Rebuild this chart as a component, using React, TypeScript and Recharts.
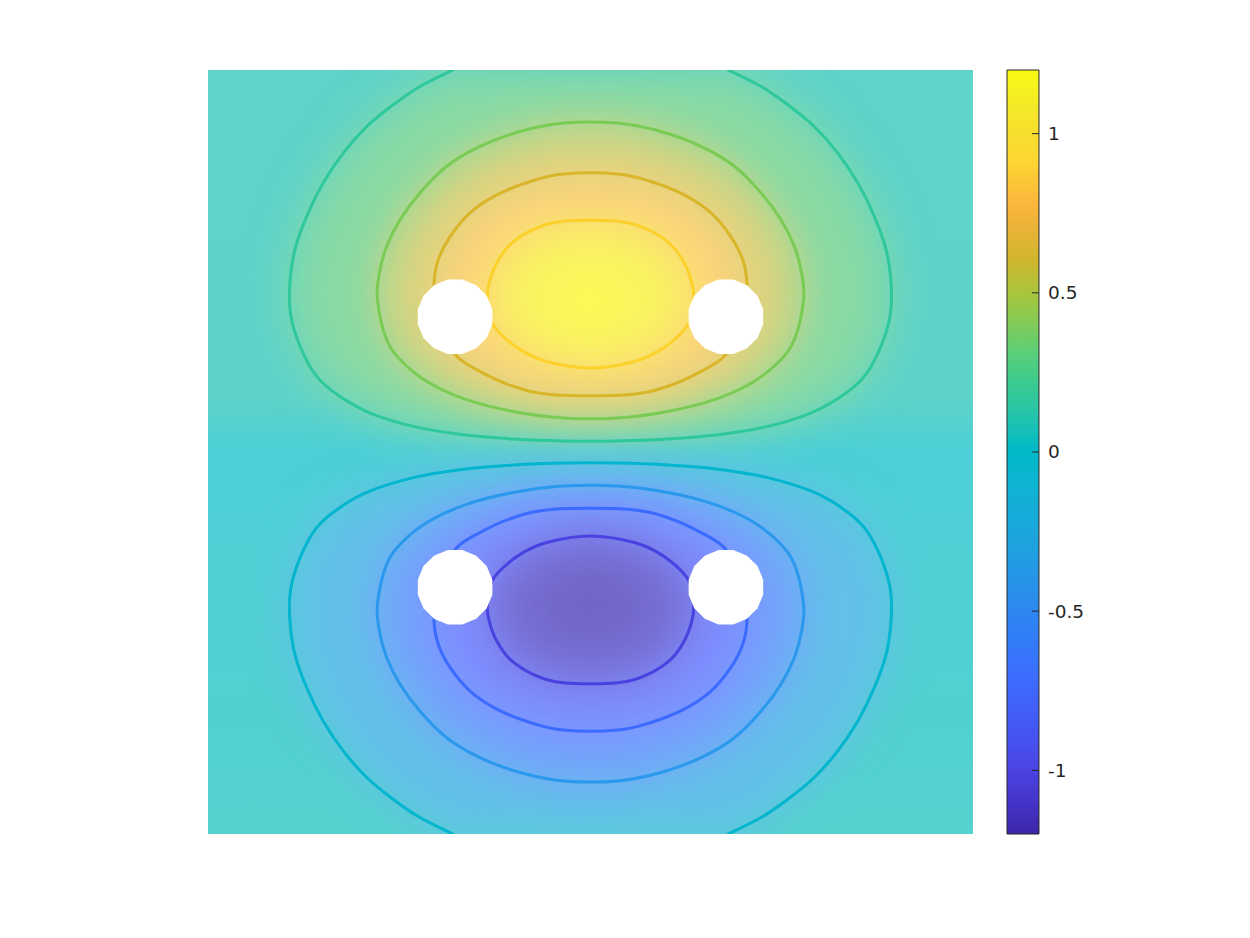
import React from 'react';
import { ScatterChart, Scatter, XAxis, YAxis, ReferenceArea, ReferenceLine } from 'recharts';

type P = [number, number];

// ---- contour lines (x, y in plot units, square [-1,1]) ----
const upperOuter: P[] = [
  [-0.36, 1.0], [-0.446, 0.957], [-0.516, 0.909], [-0.585, 0.852], [-0.646, 0.783], [-0.699, 0.704],
  [-0.742, 0.617], [-0.773, 0.529], [-0.786, 0.44], [-0.784, 0.36], [-0.759, 0.276], [-0.716, 0.198],
  [-0.655, 0.145], [-0.576, 0.102], [-0.463, 0.067], [-0.333, 0.045], [-0.202, 0.034], [-0.071, 0.029],
  [0.071, 0.029], [0.202, 0.034], [0.333, 0.045], [0.463, 0.067], [0.576, 0.102], [0.655, 0.145],
  [0.716, 0.198], [0.759, 0.276], [0.784, 0.36], [0.786, 0.44], [0.773, 0.529], [0.742, 0.617],
  [0.699, 0.704], [0.646, 0.783], [0.585, 0.852], [0.516, 0.909], [0.446, 0.957], [0.36, 1.0],
];
const upperMid: P[] = [
  [-0.071, 0.861], [-0.184, 0.839], [-0.289, 0.8], [-0.376, 0.748], [-0.446, 0.678], [-0.498, 0.608],
  [-0.533, 0.538], [-0.552, 0.468], [-0.557, 0.399], [-0.533, 0.294], [-0.489, 0.233], [-0.42, 0.18],
  [-0.324, 0.137], [-0.202, 0.106], [-0.071, 0.089], [0.071, 0.089], [0.202, 0.106], [0.324, 0.137],
  [0.42, 0.18], [0.489, 0.233], [0.533, 0.294], [0.557, 0.399], [0.552, 0.468], [0.533, 0.538],
  [0.498, 0.608], [0.446, 0.678], [0.376, 0.748], [0.289, 0.8], [0.184, 0.839], [0.071, 0.861],
];
const upperNear: P[] = [
  [-0.071, 0.728], [-0.158, 0.708], [-0.245, 0.673], [-0.315, 0.626], [-0.367, 0.564], [-0.398, 0.503],
  [-0.409, 0.442], [-0.404, 0.346], [-0.354, 0.255], [-0.289, 0.211], [-0.202, 0.172], [-0.097, 0.15],
  [0.097, 0.15], [0.202, 0.172], [0.289, 0.211], [0.354, 0.255], [0.404, 0.346], [0.409, 0.442],
  [0.398, 0.503], [0.367, 0.564], [0.315, 0.626], [0.245, 0.673], [0.158, 0.708], [0.071, 0.728],
];
const upperCore: P[] = [
  [-0.071, 0.604], [-0.15, 0.582], [-0.21, 0.543], [-0.245, 0.495], [-0.265, 0.442], [-0.27, 0.399],
  [-0.261, 0.346], [-0.237, 0.311], [-0.184, 0.268], [-0.115, 0.237], [0, 0.22], [0.115, 0.237],
  [0.184, 0.268], [0.237, 0.311], [0.261, 0.346], [0.27, 0.399], [0.265, 0.442], [0.245, 0.495],
  [0.21, 0.543], [0.15, 0.582], [0.071, 0.604],
];
const lowerOuter: P[] = [
  [-0.36, -1.0], [-0.446, -0.957], [-0.516, -0.909], [-0.585, -0.852], [-0.646, -0.783], [-0.699, -0.704],
  [-0.742, -0.617], [-0.773, -0.529], [-0.786, -0.44], [-0.784, -0.36], [-0.759, -0.276], [-0.716, -0.198],
  [-0.655, -0.145], [-0.576, -0.102], [-0.463, -0.067], [-0.333, -0.045], [-0.202, -0.034], [-0.071, -0.029],
  [0.071, -0.029], [0.202, -0.034], [0.333, -0.045], [0.463, -0.067], [0.576, -0.102], [0.655, -0.145],
  [0.716, -0.198], [0.759, -0.276], [0.784, -0.36], [0.786, -0.44], [0.773, -0.529], [0.742, -0.617],
  [0.699, -0.704], [0.646, -0.783], [0.585, -0.852], [0.516, -0.909], [0.446, -0.957], [0.36, -1.0],
];
const lowerMid: P[] = [
  [-0.071, -0.861], [-0.184, -0.839], [-0.289, -0.8], [-0.376, -0.748], [-0.446, -0.678], [-0.498, -0.608],
  [-0.533, -0.538], [-0.552, -0.468], [-0.557, -0.399], [-0.533, -0.294], [-0.489, -0.233], [-0.42, -0.18],
  [-0.324, -0.137], [-0.202, -0.106], [-0.071, -0.089], [0.071, -0.089], [0.202, -0.106], [0.324, -0.137],
  [0.42, -0.18], [0.489, -0.233], [0.533, -0.294], [0.557, -0.399], [0.552, -0.468], [0.533, -0.538],
  [0.498, -0.608], [0.446, -0.678], [0.376, -0.748], [0.289, -0.8], [0.184, -0.839], [0.071, -0.861],
];
const lowerNear: P[] = [
  [-0.071, -0.728], [-0.158, -0.708], [-0.245, -0.673], [-0.315, -0.626], [-0.367, -0.564], [-0.398, -0.503],
  [-0.409, -0.442], [-0.404, -0.346], [-0.354, -0.255], [-0.289, -0.211], [-0.202, -0.172], [-0.097, -0.15],
  [0.097, -0.15], [0.202, -0.172], [0.289, -0.211], [0.354, -0.255], [0.404, -0.346], [0.409, -0.442],
  [0.398, -0.503], [0.367, -0.564], [0.315, -0.626], [0.245, -0.673], [0.158, -0.708], [0.071, -0.728],
];
const lowerCore: P[] = [
  [-0.071, -0.604], [-0.15, -0.582], [-0.21, -0.543], [-0.245, -0.495], [-0.265, -0.442], [-0.27, -0.399],
  [-0.261, -0.346], [-0.237, -0.311], [-0.184, -0.268], [-0.115, -0.237], [0, -0.22], [0.115, -0.237],
  [0.184, -0.268], [0.237, -0.311], [0.261, -0.346], [0.27, -0.399], [0.265, -0.442], [0.245, -0.495],
  [0.21, -0.543], [0.15, -0.582], [0.071, -0.604],
];

// holes (white discs) and plot frame
const holes: P[] = [[-0.354, 0.354], [0.354, 0.354], [-0.354, -0.354], [0.354, -0.354]];
const frame: P[] = [[-1, 1], [1, 1], [1, -1], [-1, -1]];

// colorbar
const colorbarDomain: [number, number] = [-1.2, 1.2];
const colorbarTicks = [-1, -0.5, 0, 0.5, 1];
const colorbarStops: [number, string][] = [
  [0, '#f8fa14'], [0.052, '#f4e82a'], [0.119, '#fdd532'], [0.171, '#fcb83c'], [0.204, '#ebb338'],
  [0.25, '#cfb62c'], [0.293, '#a8c53e'], [0.329, '#85cb55'], [0.369, '#5ccf78'], [0.408, '#3ccb8f'],
  [0.449, '#26c4a8'], [0.5, '#00bac8'], [0.547, '#0fb3d3'], [0.614, '#1da4de'], [0.68, '#2990ea'],
  [0.745, '#327cf8'], [0.798, '#3c6cff'], [0.857, '#4458f4'], [0.916, '#4a44e2'], [0.963, '#4332c6'],
  [1, '#3d26a9'],
];

// ---- styles ----
const CB_LEFT = 1.0889;
const CB_RIGHT = 1.1725;
const CB_TICK = 0.0183;
const TEXT = '#262626';

type Layer = { pts: P[]; closed: boolean; ink: string; paint: string };
const layers: Layer[] = [
  { pts: upperOuter, closed: false, ink: '#2fc89b', paint: '#88daa5' },
  { pts: upperMid, closed: true, ink: '#79cb53', paint: '#d4d480' },
  { pts: upperNear, closed: true, ink: '#d8b529', paint: '#fdd27b' },
  { pts: upperCore, closed: true, ink: '#fcd12c', paint: 'url(#upCore)' },
  { pts: lowerOuter, closed: false, ink: '#03b5ce', paint: '#63c0e9' },
  { pts: lowerMid, closed: true, ink: '#2a98ec', paint: '#74a2fd' },
  { pts: lowerNear, closed: true, ink: '#3b6bfe', paint: '#7f8cff' },
  { pts: lowerCore, closed: true, ink: '#4941e0', paint: 'url(#lowCore)' },
];

const toXY = (pts: P[]) => pts.map(([x, y]) => ({ x, y }));

function smoothPath(pts: { x: number; y: number }[], closed: boolean, straight: boolean): string {
  const n = pts.length;
  if (straight) return pts.map((p, i) => `${i ? 'L' : 'M'}${p.x},${p.y}`).join('') + 'Z';
  const at = (i: number) => (closed ? pts[((i % n) + n) % n] : pts[Math.max(0, Math.min(n - 1, i))]);
  let d = `M${pts[0].x},${pts[0].y}`;
  const segs = closed ? n : n - 1;
  for (let i = 0; i < segs; i++) {
    const p0 = at(i - 1), p1 = at(i), p2 = at(i + 1), p3 = at(i + 2);
    d += `C${p1.x + (p2.x - p0.x) / 6},${p1.y + (p2.y - p0.y) / 6} ${p2.x - (p3.x - p1.x) / 6},${p2.y - (p3.y - p1.y) / 6} ${p2.x},${p2.y}`;
  }
  if (closed) d += 'Z';
  return d;
}

function SmoothPath(props: any) {
  const { points, closed, straight, paint, ink, weight, soft } = props;
  if (!points || points.length < 2) return null;
  const el = (
    <path
      d={smoothPath(points, !!closed, !!straight)}
      fill={paint ?? 'none'}
      stroke={ink ?? 'none'}
      strokeWidth={weight ?? 0}
      strokeLinejoin="round"
      strokeLinecap="round"
    />
  );
  return soft ? <g filter="url(#soft)">{el}</g> : el;
}

const Blank = () => <g />;

const Hole = (props: any) => {
  const { cx, cy } = props;
  const n = 16;
  const r = 38;
  const pts = Array.from({ length: n }, (_, i) => {
    const a = ((i + 0.5) / n) * 2 * Math.PI;
    return `${cx + r * Math.cos(a)},${cy + r * Math.sin(a)}`;
  }).join(' ');
  return <polygon points={pts} fill="#ffffff" />;
};

const CbTick = (props: any) => {
  const { x, y, payload } = props;
  return (
    <text x={x + 67} y={y} dy="0.35em" textAnchor="start" fontFamily="DejaVu Sans" fontSize={18.5} fill={TEXT}>
      {String(payload.value)}
    </text>
  );
};

export default function App() {
  return (
    <div style={{ position: 'absolute', left: 0, top: 0, width: 1250, height: 938, background: '#ffffff' }}>
      <ScatterChart width={1250} height={938} margin={{ top: 70, right: 217, bottom: 104, left: 208 }}>
        <defs>
          <filter id="soft" x="-50%" y="-50%" width="200%" height="200%">
            <feGaussianBlur stdDeviation="20" />
          </filter>
          <linearGradient id="bgGrad" x1="0" y1="0" x2="0" y2="1">
            <stop offset="0" stopColor="#5fd3c8" />
            <stop offset="0.43" stopColor="#5dd3c9" />
            <stop offset="0.5" stopColor="#4ccfd6" />
            <stop offset="0.57" stopColor="#4fcfd6" />
            <stop offset="1" stopColor="#55d1cf" />
          </linearGradient>
          <radialGradient id="upCore" cx="0.5" cy="0.54" r="0.6">
            <stop offset="0" stopColor="#fcfc54" />
            <stop offset="0.55" stopColor="#f9f361" />
            <stop offset="1" stopColor="#f7e96a" />
          </radialGradient>
          <radialGradient id="lowCore" cx="0.5" cy="0.46" r="0.6">
            <stop offset="0" stopColor="#7062c0" />
            <stop offset="0.55" stopColor="#756cd0" />
            <stop offset="1" stopColor="#7a78e0" />
          </radialGradient>
          <linearGradient id="cbGrad" x1="0" y1="0" x2="0" y2="1">
            {colorbarStops.map(([o, c]) => (
              <stop key={o} offset={o} stopColor={c} />
            ))}
          </linearGradient>
        </defs>

        <XAxis xAxisId="x" type="number" dataKey="x" domain={[-1, 1]} allowDataOverflow hide />
        <YAxis yAxisId="main" type="number" dataKey="y" domain={[-1, 1]} allowDataOverflow hide />
        <YAxis
          yAxisId="cb"
          orientation="right"
          type="number"
          domain={colorbarDomain}
          allowDataOverflow
          ticks={colorbarTicks}
          interval={0}
          axisLine={false}
          tickLine={false}
          width={60}
          tick={<CbTick />}
        />

        <Scatter
          data={toXY(frame)}
          xAxisId="x"
          yAxisId="main"
          shape={Blank}
          line={<SmoothPath straight paint="url(#bgGrad)" />}
          lineType="joint"
          isAnimationActive={false}
        />
        {layers.map((l, i) => (
          <Scatter
            key={`fill${i}`}
            data={toXY(l.pts)}
            xAxisId="x"
            yAxisId="main"
            shape={Blank}
            line={<SmoothPath closed={l.closed} paint={l.paint} soft />}
            lineType="joint"
            isAnimationActive={false}
          />
        ))}
        {layers.map((l, i) => (
          <Scatter
            key={`ink${i}`}
            data={toXY(l.pts)}
            xAxisId="x"
            yAxisId="main"
            shape={Blank}
            line={<SmoothPath closed={l.closed} ink={l.ink} weight={3} />}
            lineType="joint"
            isAnimationActive={false}
          />
        ))}
        <Scatter data={toXY(holes)} xAxisId="x" yAxisId="main" shape={Hole} isAnimationActive={false} />

        <ReferenceArea
          xAxisId="x"
          yAxisId="cb"
          x1={CB_LEFT}
          x2={CB_RIGHT}
          y1={colorbarDomain[0]}
          y2={colorbarDomain[1]}
          ifOverflow="visible"
          fill="url(#cbGrad)"
          fillOpacity={1}
          stroke={TEXT}
          strokeWidth={1}
        />
        {colorbarTicks.map((v) => (
          <ReferenceLine
            key={`t${v}`}
            xAxisId="x"
            yAxisId="cb"
            segment={[{ x: CB_RIGHT - CB_TICK, y: v }, { x: CB_RIGHT, y: v }]}
            ifOverflow="visible"
            stroke={TEXT}
            strokeWidth={1}
          />
        ))}
      </ScatterChart>
    </div>
  );
}
